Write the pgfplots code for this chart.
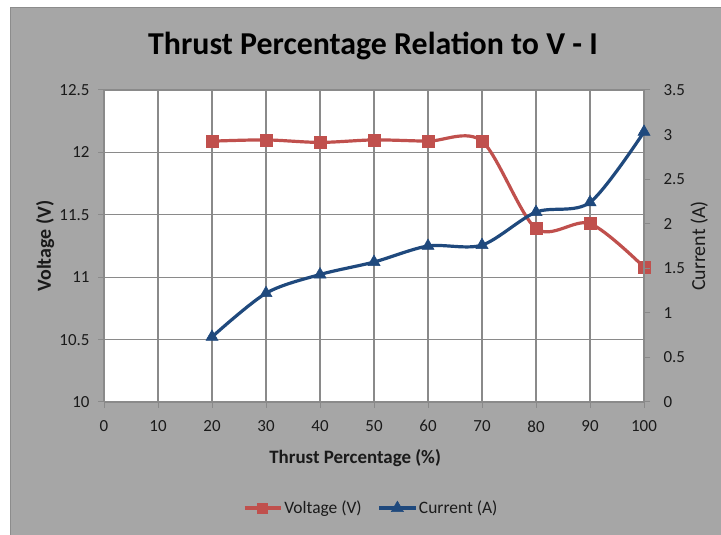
\documentclass[border=0pt]{standalone}
\usepackage{pgfplots}
\pgfplotsset{compat=1.18}
\usepackage{fontspec}
\setmainfont{Carlito}
\definecolor{bg}{HTML}{A6A6A6}
\definecolor{gridc}{HTML}{8A8A8A}
\definecolor{vred}{HTML}{C0504D}
\definecolor{iblue}{HTML}{1F497D}
\definecolor{txt}{HTML}{1A1A1A}
\pgfplotstableread{
x v
20 12.09
30 12.10
40 12.08
50 12.10
60 12.09
70 12.09
80 11.39
90 11.43
100 11.08
}\voltage
\pgfplotstableread{
x i
20 0.73
30 1.22
40 1.43
50 1.57
60 1.75
70 1.76
80 2.13
90 2.24
100 3.03
}\current
\begin{document}
\begin{tikzpicture}[x=1bp,y=1bp]
\useasboundingbox (0,0) rectangle (721,535);
\fill[white] (0,0) rectangle (721,535);
\fill[bg] (10,0) rectangle (721,528);
\draw[black!45, line width=1.2bp] (10.6,0) -- (10.6,527.4) -- (721,527.4);
\node[font=\fontsize{32}{37}\selectfont\bfseries, text=black] at (373,489) {Thrust Percentage Relation to V - I};
\pgfplotsset{
  common/.style={
    at={(104bp,133bp)}, anchor=south west, scale only axis,
    width=540bp, height=312bp,
    xmin=0, xmax=100,
    /pgf/number format/assume math mode=true,
    tick style={gridc, line width=1bp}, tick align=outside, major tick length=6bp,
    axis line style={gridc, line width=1.2bp},
    ticklabel style={font=\fontsize{17}{20}\selectfont, text=txt},
  },
  vstyle/.style={vred, line width=3.2bp, smooth, mark=square*, mark size=6bp, mark options={solid, fill=vred, draw=vred, line width=0.5bp}},
  istyle/.style={iblue, line width=3.2bp, smooth, mark=triangle*, mark size=7bp, mark options={solid, fill=iblue, draw=iblue, line width=0.5bp}},
}
\begin{axis}[common,
  ymin=10, ymax=12.5,
  xtick={0,10,...,100}, ytick={10,10.5,11,11.5,12,12.5},
  axis background/.style={fill=white},
  grid=major, major grid style={gridc, line width=1.2bp},
  axis x line*=bottom, axis y line*=left,
  xticklabel style={yshift=-9bp},
  yticklabel style={xshift=-5bp},
  xlabel={Thrust Percentage (\%)},
  xlabel style={at={(axis description cs:0.465,-0.179)}, anchor=center, font=\fontsize{19}{22}\selectfont\bfseries, text=txt},
  ylabel={Voltage (V)},
  ylabel style={at={(axis description cs:-0.109,0.5)}, anchor=center, font=\fontsize{20}{23}\selectfont\bfseries, text=txt},
]
\addplot[vstyle] table[x=x, y=v] {\voltage};
\end{axis}
\begin{axis}[common,
  ymin=0, ymax=3.5,
  ytick={0,0.5,1,1.5,2,2.5,3,3.5},
  axis x line=none, axis y line*=right,
  yticklabel style={xshift=10bp},
  ylabel={Current (A)},
  ylabel style={at={(axis description cs:1.102,0.5)}, anchor=center, rotate=0, font=\fontsize{20}{23}\selectfont, text=txt},
  legend style={at={(axis description cs:0.495,-0.34)}, anchor=center, draw=none, fill=none,
    legend columns=2, font=\fontsize{17.5}{20}\selectfont, text=txt,
    /tikz/every even column/.append style={column sep=14bp},
    legend cell align=left},
  legend image code/.code={\draw[mark repeat=2, mark phase=2, #1] plot coordinates {(0bp,0bp) (18bp,0bp) (36bp,0bp)};},
]
\addlegendimage{vstyle, mark size=5bp}
\addlegendentry{Voltage (V)}
\addplot[istyle] table[x=x, y=i] {\current};
\addlegendentry{Current (A)}
\end{axis}
\end{tikzpicture}
\end{document}
